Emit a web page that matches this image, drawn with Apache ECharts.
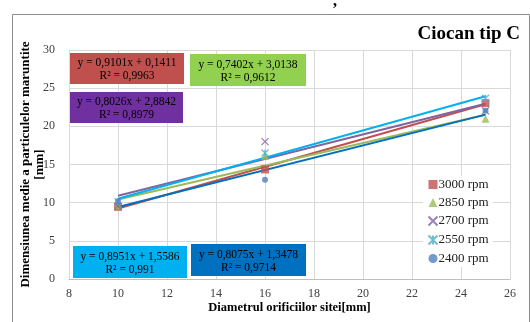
<!DOCTYPE html>
<html><head><meta charset="utf-8">
<script src="https://cdn.jsdelivr.net/npm/echarts@6/dist/echarts.min.js"></script>
<style>html,body{margin:0;padding:0;background:#fff}#c{width:530px;height:322px}</style>
</head><body><div id="c"></div>
<script>
// ---- data ----
const xValues = [10, 16, 25];
const seriesNames = ['3000 rpm', '2850 rpm', '2700 rpm', '2550 rpm', '2400 rpm'];
const rpm3000 = [9.45, 14.35, 23.04];
const rpm2850 = [9.64, 16.15, 21.0];
const rpm2700 = [9.55, 18.0, 22.04];
const rpm2550 = [10.14, 16.5, 23.69];
const rpm2400 = [10.18, 13.0, 22.04];
const slopes = [0.9101, 0.7402, 0.8026, 0.8951, 0.8075];
const intercepts = [0.1411, 3.0138, 2.8842, 1.5586, 1.3478];
const r2Values = ['0,9963', '0,9612', '0,8979', '0,991', '0,9714'];
const xTicks = [8, 10, 12, 14, 16, 18, 20, 22, 24, 26];
const yTicks = [0, 5, 10, 15, 20, 25, 30];

const values = [rpm3000, rpm2850, rpm2700, rpm2550, rpm2400];
const markerColors = ['#C0504D', '#9BBB59', '#8064A2', '#4BACC6', '#4F81BD'];
const lineColors = ['#C0504D', '#9BBB59', '#8064A2', '#00B0F0', '#0070C0'];
const symbols = ['rect', 'triangle',
  'path://M0,0L1,1M1,0L0,1',
  'path://M0,0L1,1M1,0L0,1M0.5,0L0.5,1',
  'circle'];
const boxColors = ['#C0504D', '#92D050', '#7030A0', '#00B0F0', '#0070C0'];
const boxPos = [[70, 53, 114, 31], [190, 54, 116, 32], [70, 92, 113, 31], [73, 246, 114, 32], [191, 244, 115, 32]];

const fmt = v => v.toFixed(4).replace(/0+$/, '').replace('.', ',');
const serif = '"Liberation Serif", "Times New Roman", serif';

const series = [];
seriesNames.forEach((n, i) => {
  const x0 = xValues[0], x1 = xValues[xValues.length - 1];
  series.push({
    type: 'line', name: n + ' trend', silent: true, symbol: 'none', z: 2,
    lineStyle: { color: lineColors[i], width: 2 },
    data: [[x0, slopes[i] * x0 + intercepts[i]], [x1, slopes[i] * x1 + intercepts[i]]]
  });
});
seriesNames.forEach((n, i) => {
  const isLineSym = i === 2 || i === 3;
  series.push({
    type: 'scatter', name: n, z: 3,
    symbol: symbols[i],
    symbolSize: i === 4 ? 6 : (isLineSym ? 7 : 8),
    itemStyle: isLineSym
      ? { color: 'none', borderColor: markerColors[i], borderWidth: 1.3 }
      : { color: markerColors[i] },
    data: xValues.map((x, k) => [x, values[i][k]])
  });
});

const graphics = [
  { type: 'rect', left: 10, top: 12, shape: { width: 517, height: 330 }, style: { fill: 'none', stroke: '#8c8c8c', lineWidth: 1 }, silent: true },
  { type: 'text', left: 333, top: -6, style: { text: ',', font: 'bold 16px ' + serif, fill: '#000' } }
];
boxPos.forEach((p, i) => {
  const sign = intercepts[i] >= 0 ? '+ ' : '- ';
  graphics.push({
    type: 'group', left: p[0], top: p[1], z: 10,
    children: [
      { type: 'rect', z: 10, shape: { width: p[2], height: p[3] }, style: { fill: boxColors[i] } },
      { type: 'text', z: 11, x: p[2] / 2, y: p[3] / 2 + 1, style: {
          text: 'y = ' + fmt(slopes[i]) + 'x ' + sign + fmt(Math.abs(intercepts[i])) + '\nR² = ' + r2Values[i],
          font: '11.5px ' + serif, fill: '#000', align: 'center', verticalAlign: 'middle', lineHeight: 13 } }
    ]
  });
});

const chart = echarts.init(document.getElementById('c'), null, { renderer: 'canvas' });
chart.setOption({
  animation: false,
  backgroundColor: '#fff',
  title: { text: 'Ciocan tip C', right: 5, top: 20, textStyle: { fontFamily: serif, fontWeight: 'bold', fontSize: 19, color: '#000' } },
  grid: { left: 69, right: 20, top: 50, bottom: 43, containLabel: false },
  legend: {
    data: seriesNames, orient: 'vertical', left: 423, top: 176, itemGap: 5,
    itemWidth: 9, itemHeight: 9, backgroundColor: '#fff', padding: [2, 4, 2, 3],
    textStyle: { fontFamily: serif, fontSize: 13, color: '#222', padding: [0, 0, 0, -4] }
  },
  xAxis: {
    type: 'value', min: xTicks[0], max: xTicks[xTicks.length - 1], interval: 2,
    name: 'Diametrul orificiilor sitei[mm]', nameLocation: 'middle', nameGap: 22,
    nameMoveOverlap: false,
    nameTextStyle: { fontFamily: serif, fontWeight: 'bold', fontSize: 12.5, color: '#000' },
    axisLine: { lineStyle: { color: '#BFBFBF' } }, axisTick: { show: false },
    axisLabel: { fontFamily: serif, fontSize: 12, color: '#404040', margin: 9 },
    splitLine: { lineStyle: { color: '#D9D9D9' } }
  },
  yAxis: {
    type: 'value', min: yTicks[0], max: yTicks[yTicks.length - 1], interval: 5,
    name: 'Dimensiunea medie a particulelor maruntite\n[mm]', nameLocation: 'middle', nameGap: 22,
    nameMoveOverlap: false,
    nameTextStyle: { fontFamily: serif, fontWeight: 'bold', fontSize: 13, color: '#000', lineHeight: 14 },
    axisLine: { show: true, lineStyle: { color: '#D9D9D9' } }, axisTick: { show: false },
    axisLabel: { fontFamily: serif, fontSize: 12, color: '#404040', margin: 14 },
    splitLine: { lineStyle: { color: '#D9D9D9' } }
  },
  graphic: graphics,
  series: series
});
</script></body></html>
